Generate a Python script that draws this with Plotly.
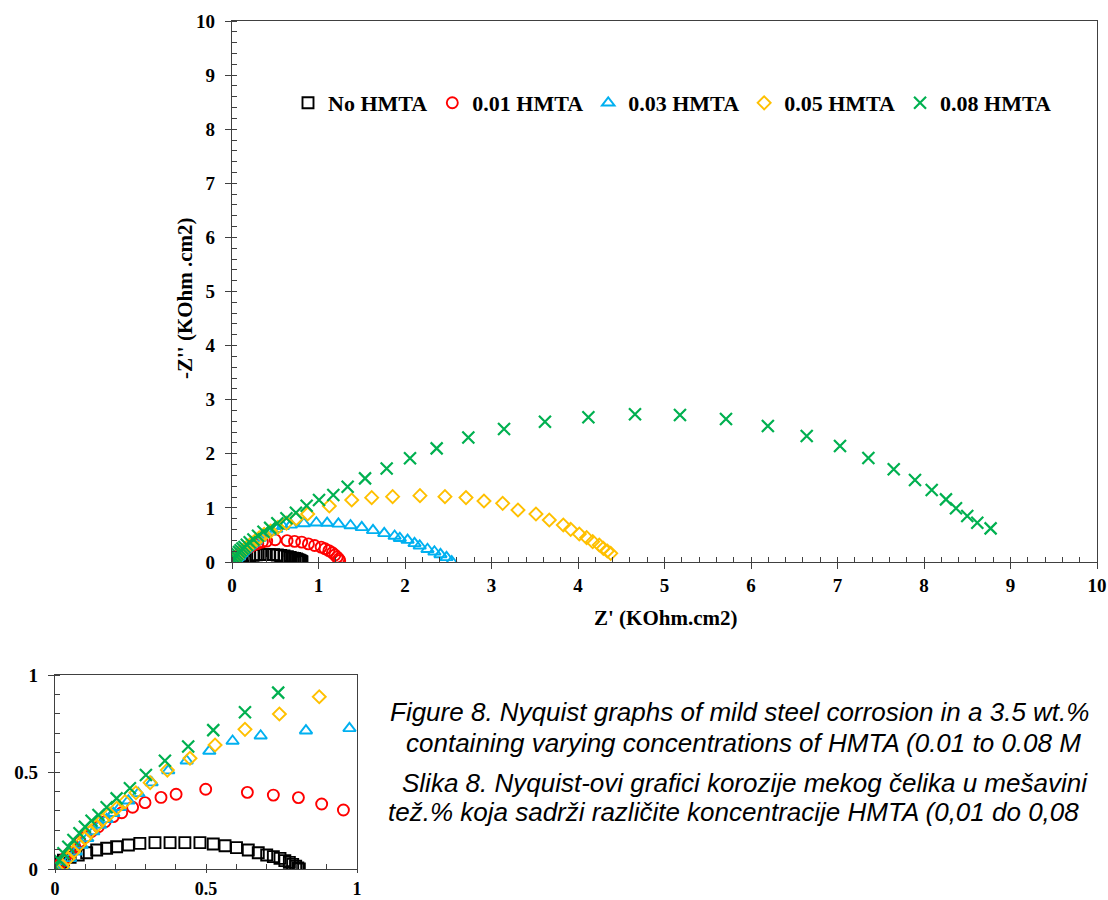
import plotly.graph_objects as go

# Nyquist data, Z' and -Z'' in KOhm.cm2
series_names = ["No HMTA", "0.01 HMTA", "0.03 HMTA", "0.05 HMTA", "0.08 HMTA"]

zre_blank = [0.0, 0.006, 0.013, 0.02, 0.028, 0.05, 0.077, 0.105, 0.138, 0.171, 0.204, 0.243,
             0.281, 0.331, 0.381, 0.43, 0.48, 0.524, 0.563, 0.601, 0.64, 0.673, 0.701, 0.723,
             0.745, 0.761, 0.776, 0.787, 0.797, 0.804, 0.809]
zim_blank = [0.0, 0.01, 0.022, 0.034, 0.046, 0.06, 0.072, 0.084, 0.098, 0.107, 0.115, 0.124,
             0.132, 0.136, 0.136, 0.136, 0.136, 0.129, 0.12, 0.11, 0.098, 0.084, 0.072, 0.064,
             0.055, 0.043, 0.034, 0.024, 0.014, 0.006, 0.0]

zre_001 = [0.0, 0.008, 0.017, 0.033, 0.05, 0.066, 0.083, 0.103, 0.121, 0.144, 0.166, 0.193,
           0.221, 0.257, 0.298, 0.351, 0.401, 0.499, 0.637, 0.723, 0.806, 0.883, 0.955, 1.03,
           1.075, 1.12, 1.16, 1.19, 1.215, 1.235, 1.245]
zim_001 = [0.01, 0.012, 0.026, 0.055, 0.085, 0.115, 0.141, 0.167, 0.193, 0.218, 0.244, 0.27,
           0.29, 0.318, 0.342, 0.369, 0.385, 0.411, 0.395, 0.381, 0.368, 0.335, 0.304, 0.275,
           0.245, 0.21, 0.17, 0.13, 0.09, 0.055, 0.025]

zre_003 = [0.005, 0.028, 0.05, 0.069, 0.088, 0.107, 0.127, 0.149, 0.171, 0.193, 0.215, 0.243,
           0.276, 0.32, 0.375, 0.436, 0.511, 0.588, 0.681, 0.831, 0.975, 1.10, 1.23, 1.37,
           1.50, 1.63, 1.76, 1.88, 1.94, 2.03, 2.11, 2.17, 2.26, 2.34, 2.41, 2.48, 2.54]
zim_003 = [0.0, 0.012, 0.055, 0.089, 0.124, 0.158, 0.193, 0.227, 0.256, 0.287, 0.318, 0.352,
           0.39, 0.445, 0.507, 0.558, 0.608, 0.66, 0.687, 0.713, 0.725, 0.72, 0.705, 0.675,
           0.64, 0.585, 0.53, 0.48, 0.44, 0.405, 0.345, 0.30, 0.235, 0.19, 0.14, 0.085, 0.01]

zre_005 = [0.005, 0.025, 0.044, 0.061, 0.08, 0.099, 0.118, 0.138, 0.158, 0.18, 0.204, 0.232,
           0.268, 0.315, 0.372, 0.447, 0.53, 0.629, 0.743, 0.875, 1.125, 1.384, 1.615, 1.857,
           2.173, 2.462, 2.705, 2.913, 3.129, 3.306, 3.514, 3.668, 3.83, 3.915, 4.015, 4.10,
           4.17, 4.246, 4.293, 4.339, 4.378]
zim_005 = [0.0, 0.012, 0.055, 0.089, 0.124, 0.158, 0.193, 0.222, 0.253, 0.283, 0.313, 0.347,
           0.393, 0.445, 0.51, 0.571, 0.639, 0.72, 0.799, 0.888, 1.035, 1.146, 1.189, 1.208,
           1.226, 1.208, 1.19, 1.128, 1.085, 0.961, 0.887, 0.776, 0.684, 0.604, 0.518, 0.45,
           0.376, 0.314, 0.253, 0.203, 0.16]

zre_008 = [0.0, 0.014, 0.028, 0.044, 0.061, 0.081, 0.099, 0.121, 0.144, 0.171, 0.204, 0.248,
           0.301, 0.364, 0.441, 0.524, 0.629, 0.739, 0.863, 1.006, 1.171, 1.337, 1.538, 1.788,
           2.058, 2.366, 2.732, 3.145, 3.618, 4.12, 4.659, 5.179, 5.711, 6.195, 6.644, 7.029,
           7.357, 7.65, 7.896, 8.089, 8.254, 8.37, 8.50, 8.616, 8.77]
zim_008 = [0.012, 0.046, 0.081, 0.115, 0.149, 0.184, 0.218, 0.249, 0.278, 0.318, 0.364, 0.416,
           0.485, 0.558, 0.631, 0.716, 0.808, 0.909, 1.04, 1.146, 1.238, 1.39, 1.546, 1.73,
           1.916, 2.10, 2.30, 2.458, 2.594, 2.674, 2.73, 2.717, 2.643, 2.514, 2.329, 2.144,
           1.922, 1.716, 1.516, 1.331, 1.158, 0.992, 0.85, 0.727, 0.622]

main_ticks = [0, 1, 2, 3, 4, 5, 6, 7, 8, 9, 10]
inset_ticks = [0, 0.5, 1]
inset_tick_text = ["0", "0.5", "1"]

zre = [zre_blank, zre_001, zre_003, zre_005, zre_008]
zim = [zim_blank, zim_001, zim_003, zim_005, zim_008]
symbols = ["square-open", "circle-open", "triangle-up-open", "diamond-open", "x-thin"]
colors = ["#000000", "#FF0000", "#00B0F0", "#FFC000", "#00B050"]
sizes = [11, 11, 11, 10, 12]
widths = [1.9, 1.9, 1.9, 1.9, 2.2]

W, H = 1108, 900
SERIF = "Liberation Serif"
AXIS_COLOR = "#404040"


def px_x(p):
    return p / W


def px_y(p):
    return (H - p) / H


fig = go.Figure()

for i, name in enumerate(series_names):
    marker = dict(symbol=symbols[i], size=sizes[i], color=colors[i],
                  line=dict(color=colors[i], width=widths[i]))
    fig.add_trace(go.Scatter(x=zre[i], y=zim[i], mode="markers", name=name,
                             marker=marker, xaxis="x", yaxis="y"))
    fig.add_trace(go.Scatter(x=zre[i], y=zim[i], mode="markers", name=name,
                             marker=marker, xaxis="x2", yaxis="y2", showlegend=False))

tick_font = dict(family=SERIF, size=19, color="black", weight="bold")


def axis_style(**kw):
    base = dict(showline=True, mirror=True, linecolor=AXIS_COLOR, linewidth=1.3,
                ticks="outside", ticklen=6, tickwidth=1.3, tickcolor=AXIS_COLOR,
                showgrid=False, zeroline=False, tickfont=tick_font, automargin=False,
                fixedrange=True)
    base.update(kw)
    return base


def minor(step):
    return dict(dtick=step, tick0=0, ticks="inside", ticklen=5,
                tickcolor=AXIS_COLOR, tickwidth=1.2, showgrid=False)


fig.update_layout(
    width=W, height=H,
    margin=dict(l=0, r=0, t=0, b=0),
    paper_bgcolor="white", plot_bgcolor="white",
    showlegend=True,
    legend=dict(orientation="h", x=px_x(288), y=px_y(103), xanchor="left", yanchor="middle",
                font=dict(family=SERIF, size=22, color="black", weight="bold"),
                bgcolor="rgba(0,0,0,0)", itemwidth=30, tracegroupgap=0),
    xaxis=axis_style(domain=[px_x(232), px_x(1097)], range=[0, 10], tickvals=main_ticks,
                     minor=minor(0.2), anchor="y"),
    yaxis=axis_style(domain=[px_y(562), px_y(21)], range=[0, 10], tickvals=main_ticks,
                     minor=minor(0.2), anchor="x", ticklabelstandoff=6),
    xaxis2=axis_style(domain=[px_x(55), px_x(357)], range=[0, 1], tickvals=inset_ticks,
                      ticktext=inset_tick_text, minor=minor(0.1), anchor="y2", ticklen=3,
                      tickfont=dict(family=SERIF, size=18, color="black", weight="bold")),
    yaxis2=axis_style(domain=[px_y(869), px_y(675)], range=[0, 1], tickvals=inset_ticks,
                      ticktext=inset_tick_text, minor=minor(0.1), anchor="x2",
                      ticklabelstandoff=6),
)

title_font = dict(family=SERIF, size=21, color="black", weight="bold")
caption_font = dict(family="Liberation Sans", size=26, color="black", style="italic")

annotations = [
    dict(text="Z' (KOhm.cm2)", x=px_x(665), y=px_y(618), xanchor="center", yanchor="middle",
         font=title_font),
    dict(text="-Z'' (KOhm .cm2)", x=px_x(185), y=px_y(298), xanchor="center",
         yanchor="middle", textangle=-90, font=title_font),
    dict(text="Figure 8. Nyquist graphs of mild steel corrosion in a 3.5 wt.%",
         x=px_x(388), y=px_y(712), xanchor="left", yanchor="middle", font=caption_font),
    dict(text="containing varying concentrations of HMTA (0.01 to 0.08 M",
         x=px_x(404), y=px_y(743), xanchor="left", yanchor="middle", font=caption_font),
    dict(text="Slika 8. Nyquist-ovi grafici korozije mekog čelika u mešavini",
         x=px_x(400), y=px_y(783), xanchor="left", yanchor="middle", font=caption_font),
    dict(text="tež.% koja sadrži različite koncentracije HMTA (0,01 do 0,08",
         x=px_x(386), y=px_y(812), xanchor="left", yanchor="middle", font=caption_font),
]
for a in annotations:
    a.update(xref="paper", yref="paper", showarrow=False)
fig.update_layout(annotations=annotations)

fig.write_html("out.html")
